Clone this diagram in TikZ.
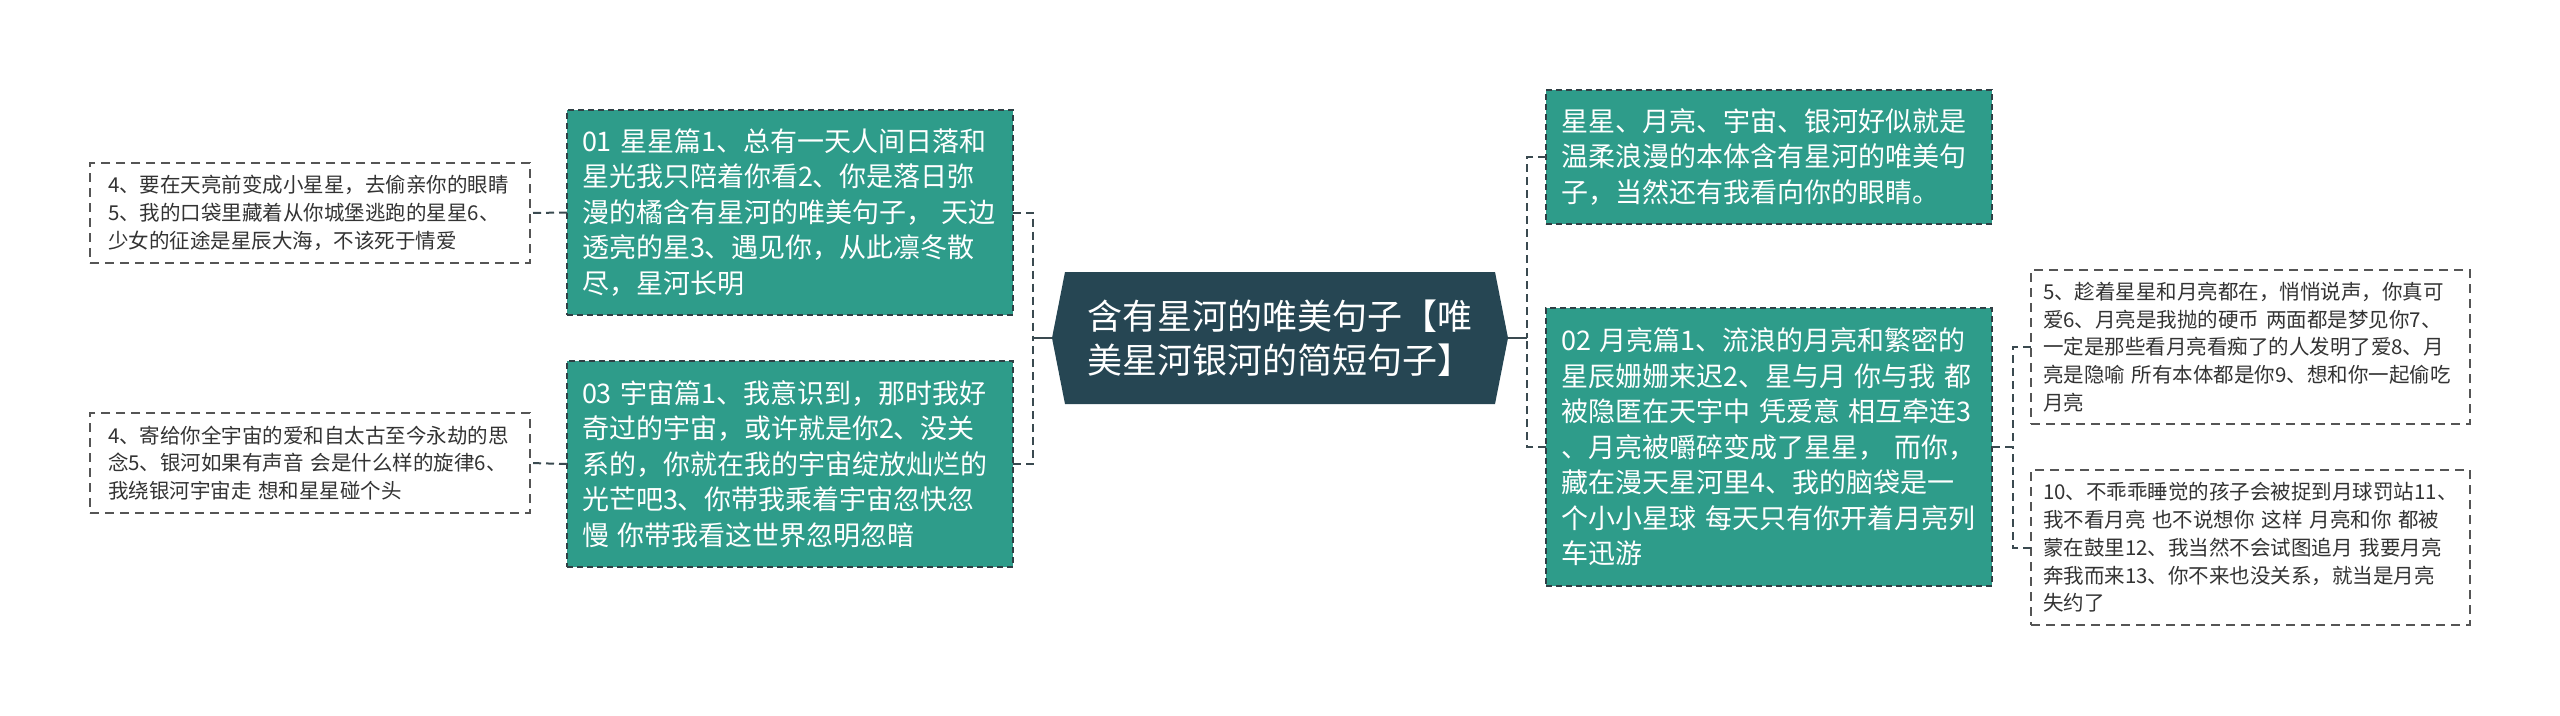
\documentclass[tikz,border=0pt]{standalone}
\usepackage{fontspec}
\setmainfont{Noto Sans CJK SC}
\usetikzlibrary{backgrounds}
\definecolor{tealfill}{HTML}{2E9C8A}
\definecolor{darkhex}{HTML}{264653}
\definecolor{edgecol}{HTML}{2F3F44}
\definecolor{leafedge}{HTML}{555555}
\definecolor{leaftext}{HTML}{333333}
\definecolor{conncol}{HTML}{3A4A50}
\tikzset{
  branchbox/.style={draw=edgecol, line width=1.4pt, dash pattern=on 6pt off 4pt,
    fill=tealfill, text=white, font=\fontsize{27}{35.5}\selectfont,
    align=left, inner ysep=0pt, outer sep=0pt},
  leafbox/.style={draw=leafedge, line width=1.8pt, dash pattern=on 9pt off 6pt,
    fill=white, text=leaftext, font=\fontsize{20.5}{27.8}\selectfont,
    align=left, inner ysep=0pt, outer sep=0pt},
  centerbox/.style={text=white, font=\fontsize{35}{44}\selectfont, align=left,
    minimum width=456pt, minimum height=132pt, inner sep=0pt, outer sep=0pt},
  conn/.style={draw=conncol, line width=2pt, dash pattern=on 8pt off 5pt},
  solidconn/.style={draw=conncol, line width=2pt}
}
\begin{document}
\begin{tikzpicture}[x=1pt,y=-1pt]
\useasboundingbox (0,0) rectangle (2560,715);
\begin{scope}[on background layer]
\fill[white] (0,0) rectangle (2560,715);
\end{scope}

% center
\node[centerbox] (c) at (1280,338) {含有星河的唯美句子【唯\\美星河银河的简短句子】};
\begin{scope}[on background layer]
\fill[darkhex] ([xshift=13pt]c.north west) -- ([xshift=-13pt]c.north east) -- (c.east)
  -- ([xshift=-13pt]c.south east) -- ([xshift=13pt]c.south west) -- (c.west) -- cycle;
\end{scope}

% branches
\node[branchbox, text width=416pt, inner xsep=15pt, minimum height=205pt] (b01) at (790,212.5)
 {01 星星篇1、总有一天人间日落和\\星光我只陪着你看2、你是落日弥\\漫的橘含有星河的唯美句子，\ 天边\\透亮的星3、遇见你，从此凛冬散\\尽，星河长明};
\node[branchbox, text width=416pt, inner xsep=15pt, minimum height=206pt] (b03) at (790,464)
 {03 宇宙篇1、我意识到，那时我好\\奇过的宇宙，或许就是你2、没关\\系的，你就在我的宇宙绽放灿烂的\\光芒吧3、你带我乘着宇宙忽快忽\\慢 你带我看这世界忽明忽暗};
\node[branchbox, text width=416pt, inner xsep=15pt, minimum height=134pt] (bR1) at (1769,157)
 {星星、月亮、宇宙、银河好似就是\\温柔浪漫的本体含有星河的唯美句\\子，当然还有我看向你的眼睛。};
\node[branchbox, text width=416pt, inner xsep=15pt, minimum height=278pt] (b02) at (1769,447)
 {02 月亮篇1、流浪的月亮和繁密的\\星辰姗姗来迟2、星与月 你与我 都\\被隐匿在天宇中 凭爱意 相互牵连3\\、月亮被嚼碎变成了星星，\ 而你，\\藏在漫天星河里4、我的脑袋是一\\个小小星球 每天只有你开着月亮列\\车迅游};

% leaves
\node[leafbox, text width=404pt, inner xsep=18pt, minimum height=100pt] (l1) at (310,213)
 {4、要在天亮前变成小星星，去偷亲你的眼睛\\5、我的口袋里藏着从你城堡逃跑的星星6、\\少女的征途是星辰大海，不该死于情爱};
\node[leafbox, text width=404pt, inner xsep=18pt, minimum height=100pt] (l2) at (310,463)
 {4、寄给你全宇宙的爱和自太古至今永劫的思\\念5、银河如果有声音 会是什么样的旋律6、\\我绕银河宇宙走 想和星星碰个头};
\node[leafbox, text width=415pt, inner xsep=12pt, minimum height=154pt] (r1) at (2250.5,347)
 {5、趁着星星和月亮都在，悄悄说声，你真可\\爱6、月亮是我抛的硬币 两面都是梦见你7、\\一定是那些看月亮看痴了的人发明了爱8、月\\亮是隐喻 所有本体都是你9、想和你一起偷吃\\月亮};
\node[leafbox, text width=415pt, inner xsep=12pt, minimum height=155pt] (r2) at (2250.5,547.5)
 {10、不乖乖睡觉的孩子会被捉到月球罚站11、\\我不看月亮 也不说想你 这样 月亮和你 都被\\蒙在鼓里12、我当然不会试图追月 我要月亮\\奔我而来13、你不来也没关系，就当是月亮\\失约了};

% connectors
\coordinate (jl) at (1033,338);
\coordinate (jr) at (1527,338);
\coordinate (jr2) at (2013,447);
\draw[solidconn] (c.west) -- (jl);
\draw[conn] (b01.east) -| (jl);
\draw[conn] (b03.east) -| (jl);
\draw[solidconn] (c.east) -- (jr);
\draw[conn] (bR1.west) -| (jr);
\draw[conn] (b02.west) -| (jr);
\draw[conn] (b01.west) -- (l1.east);
\draw[conn] (b03.west) -- (l2.east);
\draw[conn] (b02.east) -- (jr2);
\draw[conn] (r1.west) -| (jr2);
\draw[conn] (r2.west) -| (jr2);
\end{tikzpicture}
\end{document}
